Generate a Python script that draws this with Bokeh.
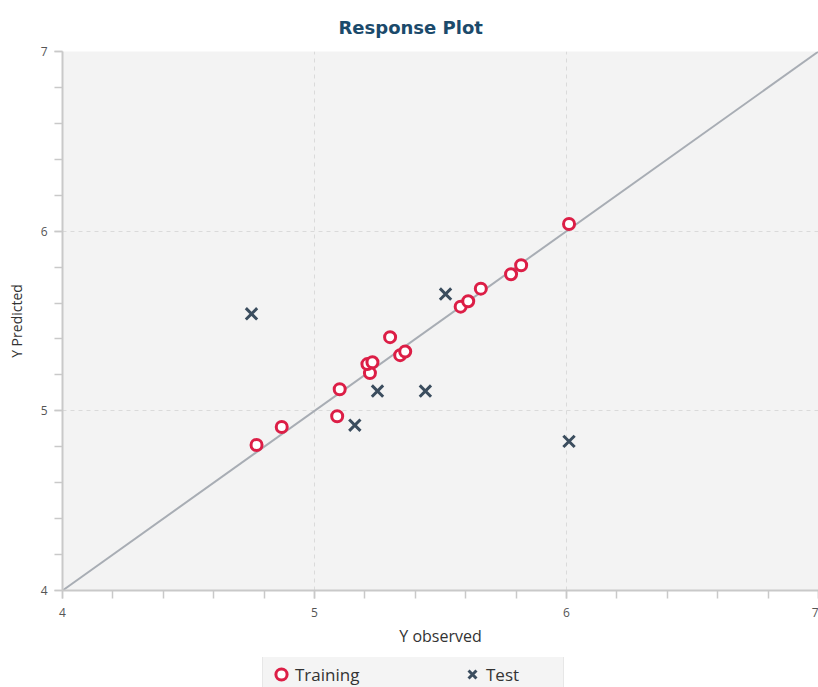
from bokeh.plotting import figure
from bokeh.layouts import column
from bokeh.models import Range1d, Legend, LegendItem, SingleIntervalTicker, Title
from bokeh.embed import file_html
from bokeh.resources import INLINE

# Data
train_obs = [4.77, 4.87, 5.09, 5.10, 5.22, 5.21, 5.23, 5.30, 5.34, 5.36, 5.58, 5.61, 5.66, 5.78, 5.82, 6.01]
train_pred = [4.81, 4.91, 4.97, 5.12, 5.21, 5.26, 5.27, 5.41, 5.31, 5.33, 5.58, 5.61, 5.68, 5.76, 5.81, 6.04]
test_obs = [4.75, 5.52, 5.25, 5.44, 5.16, 6.01]
test_pred = [5.54, 5.65, 5.11, 5.11, 4.92, 4.83]
diag_x = [4, 7]
diag_y = [4, 7]
series_labels = ["Training", "Test"]

FONT = "Open Sans"
RED = "#dc1e46"
DARK = "#3b4d5e"

p = figure(width=818, height=657, x_range=Range1d(4, 7), y_range=Range1d(4, 7),
           output_backend="svg", toolbar_location=None,
           min_border_left=62, min_border_right=0, min_border_top=50, min_border_bottom=67,
           background_fill_color="#f3f3f3", border_fill_color="white")
p.outline_line_color = None

t = Title(text="Response Plot", align="left", offset=276, text_font="DejaVu Sans",
          text_font_size="18px", text_font_style="bold", text_color="#1b4a6b", standoff=28)
p.add_layout(t, "above")

for ax in (p.xaxis[0], p.yaxis[0]):
    ax.ticker = SingleIntervalTicker(interval=1, num_minor_ticks=5)
    ax.axis_line_color = "#c9c9c9"
    ax.axis_line_width = 2
    ax.major_tick_line_color = "#c9c9c9"
    ax.minor_tick_line_color = "#c9c9c9"
    ax.major_tick_in = 0
    ax.major_tick_out = 8
    ax.minor_tick_in = 0
    ax.minor_tick_out = 8
    ax.major_tick_line_width = 1.5
    ax.minor_tick_line_width = 1.5
    ax.major_label_text_font = FONT
    ax.major_label_text_font_size = "12px"
    ax.major_label_text_color = "#555555"
    ax.axis_label_text_font = FONT
    ax.axis_label_text_font_style = "normal"
    ax.axis_label_text_color = "#333333"

p.xaxis.axis_label = "Y observed"
p.xaxis.axis_label_text_font_size = "16px"
p.xaxis.axis_label_standoff = 5
p.xaxis.major_label_standoff = 9
p.yaxis.axis_label = "Y Predicted"
p.yaxis.axis_label_text_font_size = "14px"
p.yaxis.axis_label_standoff = 12
p.yaxis.major_label_standoff = 7

for g in (p.xgrid[0], p.ygrid[0]):
    g.grid_line_color = "#dadada"
    g.grid_line_dash = "4 4"
    g.grid_line_width = 1
p.xgrid.ticker = SingleIntervalTicker(interval=1)
p.ygrid.ticker = SingleIntervalTicker(interval=1)

p.line(diag_x, diag_y, line_color="#a8adb4", line_width=2)

p.scatter(train_obs, train_pred, marker="circle", size=11, line_width=3,
          line_color=RED, fill_color="white")
p.scatter(test_obs, test_pred, marker="x", size=16, line_width=3, line_color=DARK)

# Legend strip below the chart (its renderers plot the same data, outside this strip's range)
lf = figure(width=818, height=30, x_range=Range1d(0, 1), y_range=Range1d(0, 1),
            output_backend="svg", toolbar_location=None,
            x_axis_location=None, y_axis_location=None,
            min_border=0, background_fill_color="white", border_fill_color="white")
lf.outline_line_color = None
lf.xgrid.visible = False
lf.ygrid.visible = False
lr_train = lf.scatter(train_obs, train_pred, marker="circle", size=11, line_width=3,
                      line_color=RED, fill_color="white")
lr_test = lf.scatter(test_obs, test_pred, marker="x", size=16, line_width=3, line_color=DARK)

legend = Legend(items=[LegendItem(label=series_labels[0], renderers=[lr_train]),
                       LegendItem(label=series_labels[1], renderers=[lr_test])],
                orientation="horizontal", location=(200, -6),
                background_fill_color="#f3f3f3", border_line_color="#d9d9d9",
                label_text_font=FONT, label_text_font_size="17px", label_text_color="#333333",
                glyph_width=28, glyph_height=28, label_standoff=0, label_width=73,
                spacing=90, padding=4, margin=0, label_height=28)
lf.add_layout(legend, "center")

layout = column(p, lf, spacing=0)
open("out.html", "w").write(file_html(layout, INLINE))
